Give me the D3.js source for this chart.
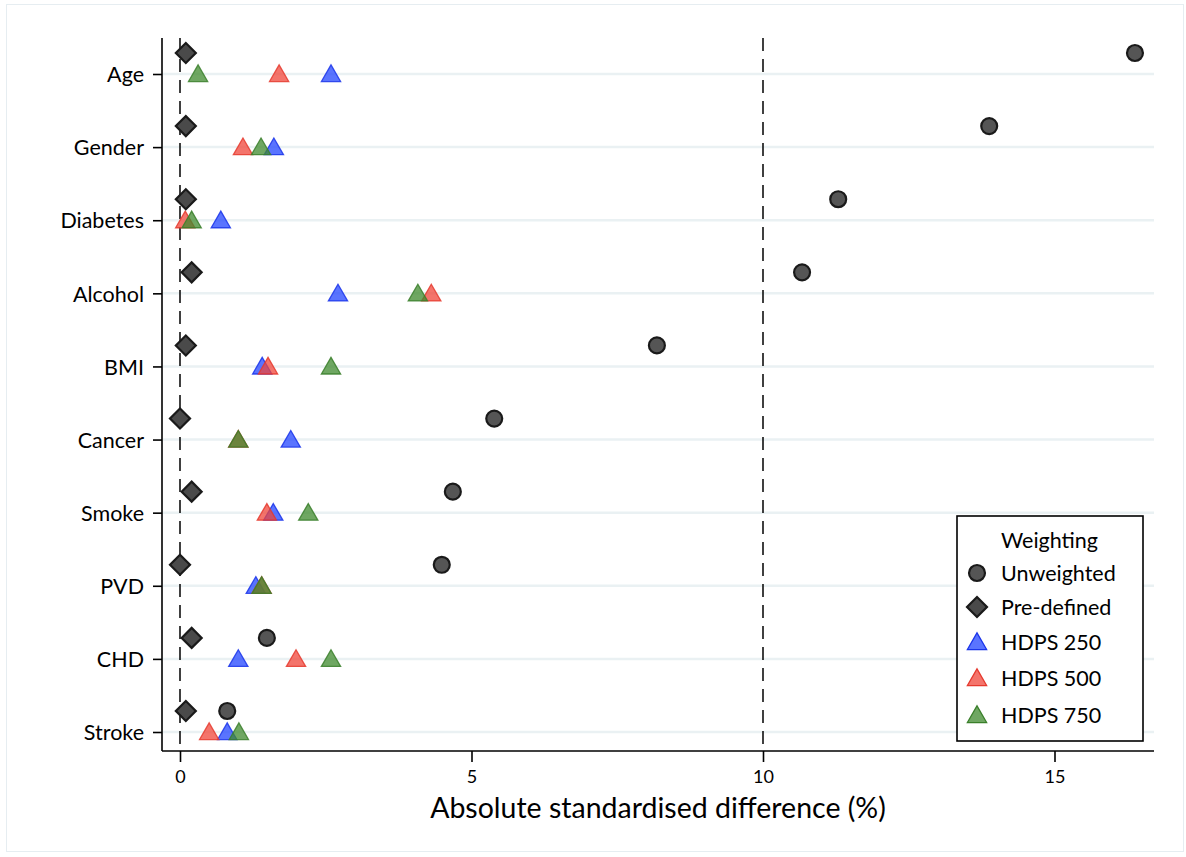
<!DOCTYPE html>
<html>
<head>
<meta charset="utf-8">
<script src="https://cdn.jsdelivr.net/npm/d3@7"></script>
<style>
  body { margin: 0; background: #fff; }
  svg text { font-family: Lato, "Open Sans", sans-serif; fill: #000; }
</style>
</head>
<body>
<svg id="chart" width="1186" height="857"></svg>
<script>
// Datos
const categories = ["Age", "Gender", "Diabetes", "Alcohol", "BMI", "Cancer", "Smoke", "PVD", "CHD", "Stroke"];
const unweighted = [16.38, 13.88, 11.29, 10.67, 8.18, 5.39, 4.68, 4.49, 1.49, 0.81];
const predefined = [0.1, 0.1, 0.1, 0.2, 0.1, 0.0, 0.2, 0.0, 0.2, 0.1];
const hdps250 = [2.59, 1.61, 0.7, 2.71, 1.41, 1.9, 1.6, 1.3, 1.0, 0.81];
const hdps500 = [1.7, 1.08, 0.09, 4.31, 1.51, 1.0, 1.49, 1.4, 1.99, 0.5];
const hdps750 = [0.31, 1.39, 0.2, 4.08, 2.59, 1.0, 2.2, 1.4, 2.59, 1.01];
const xTicks = [0, 5, 10, 15];
const refLines = [0, 10];

const svg = d3.select("#chart");

// marco exterior
svg.append("rect")
  .attr("x", 6.5).attr("y", 4.5)
  .attr("width", 1177).attr("height", 847)
  .attr("fill", "none").attr("stroke", "#e6edf1");

const pLeft = 162, pRight = 1154, pTop = 38, pBottom = 751;

const x = d3.scaleLinear().domain([0, 15]).range([180, 1054.5]);
const y = d3.scalePoint().domain(categories).range([74, 732]);

// grid horizontal
svg.append("g").selectAll("line")
  .data(categories)
  .join("line")
  .attr("x1", pLeft + 1).attr("x2", pRight)
  .attr("y1", d => y(d)).attr("y2", d => y(d))
  .attr("stroke", "#eaf1f3").attr("stroke-width", 2.5);

// lineas de referencia
svg.append("g").selectAll("line")
  .data(refLines)
  .join("line")
  .attr("x1", d => x(d)).attr("x2", d => x(d))
  .attr("y1", pTop).attr("y2", pBottom)
  .attr("stroke", "#111").attr("stroke-width", 1.6)
  .attr("stroke-dasharray", "13,8");

// Ejes
const xAxis = svg.append("g")
  .attr("transform", `translate(0,${pBottom})`)
  .call(d3.axisBottom(x).tickValues(xTicks).tickSize(11).tickPadding(8));
xAxis.select(".domain").attr("d", `M${pLeft},0H${pRight}`);

const yAxis = svg.append("g")
  .attr("transform", `translate(${pLeft},0)`)
  .call(d3.axisLeft(y).tickSize(9).tickPadding(9));
yAxis.select(".domain").attr("d", `M0,${pTop}V${pBottom}`);

[xAxis, yAxis].forEach(g => {
  g.select(".domain").attr("stroke", "#000").attr("stroke-width", 1.6);
  g.selectAll(".tick line").attr("stroke", "#000").attr("stroke-width", 1.6);
  g.selectAll(".tick text").attr("font-size", 21.5).attr("font-family", "Lato, sans-serif").attr("fill", "#000");
});
xAxis.selectAll(".tick text").attr("font-size", 18);
yAxis.selectAll(".tick text").attr("dy", "0.36em");

svg.append("text")
  .attr("x", 658).attr("y", 818)
  .attr("text-anchor", "middle")
  .attr("font-size", 28.5)
  .text("Absolute standardised difference (%)");

// simbolos
const circleSym = d3.symbol().type(d3.symbolCircle).size(200);
const diamondSym = d3.symbol().type(d3.symbolSquare).size(200);
const triSym = d3.symbol().type(d3.symbolTriangle).size(160);

const offset = -21;
const marks = svg.append("g");

const triSeries = [
  { name: "HDPS 250", values: hdps250, fill: "#2345ff", stroke: "#1a34ea" },
  { name: "HDPS 500", values: hdps500, fill: "#f0463a", stroke: "#e5392e" },
  { name: "HDPS 750", values: hdps750, fill: "#3f8a2d", stroke: "#3a7f2a" }
];

triSeries.forEach(s => {
  marks.append("g").selectAll("path")
    .data(s.values)
    .join("path")
    .attr("d", triSym)
    .attr("transform", (d, i) => `translate(${x(d)},${y(categories[i]) + 2})`)
    .attr("fill", s.fill).attr("fill-opacity", 0.75)
    .attr("stroke", s.stroke).attr("stroke-opacity", 0.85).attr("stroke-width", 1.3);
});

marks.append("g").selectAll("path")
  .data(unweighted)
  .join("path")
  .attr("d", circleSym)
  .attr("transform", (d, i) => `translate(${x(d)},${y(categories[i]) + offset})`)
  .attr("fill", "#555").attr("stroke", "#1a1a1a").attr("stroke-width", 2.2);

marks.append("g").selectAll("path")
  .data(predefined)
  .join("path")
  .attr("d", diamondSym)
  .attr("transform", (d, i) => `translate(${x(d)},${y(categories[i]) + offset}) rotate(45)`)
  .attr("fill", "#4a4a4a").attr("stroke", "#1a1a1a").attr("stroke-width", 2.2);

// Leyenda
const legend = svg.append("g").attr("transform", "translate(957,516)");
legend.append("rect")
  .attr("width", 186).attr("height", 225)
  .attr("fill", "#fff").attr("stroke", "#000").attr("stroke-width", 1.6);
legend.append("text")
  .attr("x", 44).attr("y", 32).attr("font-size", 21.5)
  .text("Weighting");

const legendItems = [
  { name: "Unweighted", sym: circleSym, fill: "#555", stroke: "#1a1a1a", rot: 0, op: 1 },
  { name: "Pre-defined", sym: diamondSym, fill: "#4a4a4a", stroke: "#1a1a1a", rot: 45, op: 1 },
  ...triSeries.map(s => ({ name: s.name, sym: triSym, fill: s.fill, stroke: s.stroke, rot: 0, op: 0.75 }))
];
const legendY = [57, 91, 126, 162, 199];

legendItems.forEach((it, i) => {
  const g = legend.append("g").attr("transform", `translate(0,${legendY[i]})`);
  g.append("path")
    .attr("d", it.sym)
    .attr("transform", `translate(20,${i >= 2 ? 2 : 0}) rotate(${it.rot})`)
    .attr("fill", it.fill).attr("fill-opacity", it.op)
    .attr("stroke", it.stroke).attr("stroke-width", it.op < 1 ? 1.3 : 2.2);
  g.append("text")
    .attr("x", 44).attr("dy", "0.36em").attr("font-size", 21.5)
    .text(it.name);
});
</script>
</body>
</html>
